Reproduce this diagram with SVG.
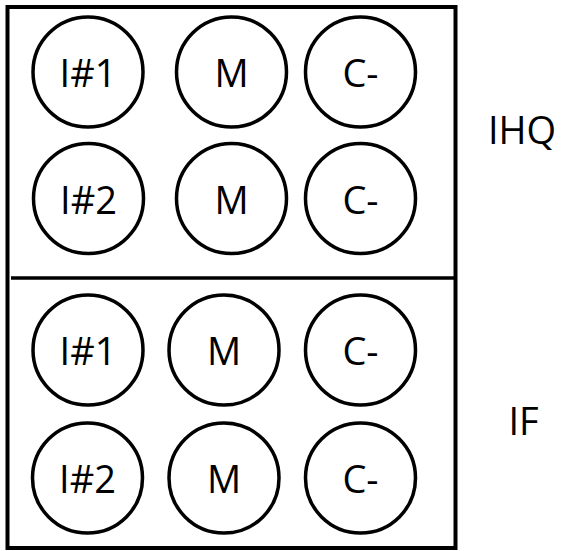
<svg xmlns="http://www.w3.org/2000/svg" width="561" height="551" viewBox="0 0 561 551">
<style>
.w{fill:#fff;stroke:#000;stroke-width:3.5}
.t{font-family:"Open Sans","Noto Sans",sans-serif;font-size:38px;fill:#000;text-anchor:middle}
.frame{fill:#fff;stroke:#000;stroke-width:4}
</style>
<rect width="561" height="551" fill="#fff"/>
<g id="plate">
<rect class="frame" x="7.5" y="7" width="448" height="541"/>
</g>
<g id="connectors">
<line x1="11" y1="278" x2="457" y2="278" stroke="#000" stroke-width="3.5"/>
</g>
<g id="ihq-i1"><circle class="w" cx="88" cy="72" r="55"/><text class="t" x="88" y="87">I#1</text></g>
<g id="ihq-m1"><circle class="w" cx="231.5" cy="72" r="55"/><text class="t" x="231.5" y="87">M</text></g>
<g id="ihq-c1"><circle class="w" cx="360.5" cy="72" r="55"/><text class="t" x="360.5" y="87">C-</text></g>
<g id="ihq-i2"><circle class="w" cx="88.5" cy="198.5" r="55"/><text class="t" x="88.5" y="213.5">I#2</text></g>
<g id="ihq-m2"><circle class="w" cx="231.5" cy="198.5" r="55"/><text class="t" x="231.5" y="213.5">M</text></g>
<g id="ihq-c2"><circle class="w" cx="360.5" cy="198.5" r="55"/><text class="t" x="360.5" y="213.5">C-</text></g>
<g id="if-i1"><circle class="w" cx="88" cy="350" r="55"/><text class="t" x="88" y="365">I#1</text></g>
<g id="if-m1"><circle class="w" cx="224" cy="350" r="55"/><text class="t" x="224" y="365">M</text></g>
<g id="if-c1"><circle class="w" cx="360.5" cy="350" r="55"/><text class="t" x="360.5" y="365">C-</text></g>
<g id="if-i2"><circle class="w" cx="87.5" cy="478" r="55"/><text class="t" x="87.5" y="493">I#2</text></g>
<g id="if-m2"><circle class="w" cx="224" cy="478" r="55"/><text class="t" x="224" y="493">M</text></g>
<g id="if-c2"><circle class="w" cx="360.5" cy="478" r="55"/><text class="t" x="360.5" y="493">C-</text></g>
<g id="label-ihq"><text class="t" x="522" y="144">IHQ</text></g>
<g id="label-if"><text class="t" x="523.5" y="435">IF</text></g>
</svg>
